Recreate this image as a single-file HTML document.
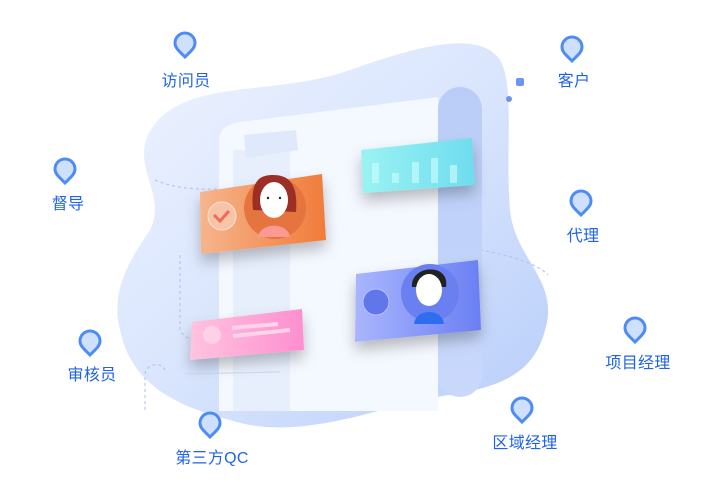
<!DOCTYPE html>
<html><head><meta charset="utf-8"><style>
html,body{margin:0;padding:0;background:#fff;}
body{width:724px;height:486px;position:relative;overflow:hidden;font-family:"Liberation Sans","Noto Sans CJK SC",sans-serif;}
.lbl{position:absolute;font-size:16px;color:#1f63e6;transform:translateX(-50%);white-space:nowrap;letter-spacing:0.3px}
</style></head><body>
<svg width="724" height="486" style="position:absolute;left:0;top:0">
<defs>
<linearGradient id="blob" x1="0" y1="0" x2="1" y2="1">
<stop offset="0" stop-color="#eef3ff"/><stop offset="0.5" stop-color="#d9e5fd"/><stop offset="1" stop-color="#b7cdfa"/></linearGradient>
<linearGradient id="org" x1="0" y1="0" x2="1" y2="0"><stop offset="0" stop-color="#f6b58c"/><stop offset="1" stop-color="#f07b3a"/></linearGradient>
<linearGradient id="cy" x1="0" y1="0" x2="1" y2="0"><stop offset="0" stop-color="#9af3f2"/><stop offset="1" stop-color="#6fdcef"/></linearGradient>
<linearGradient id="pu" x1="0" y1="0" x2="1" y2="0"><stop offset="0" stop-color="#a9b6fd"/><stop offset="1" stop-color="#6a7ff3"/></linearGradient>
<linearGradient id="pk" x1="0" y1="0" x2="1" y2="0"><stop offset="0" stop-color="#ffc3df"/><stop offset="1" stop-color="#fe8fd0"/></linearGradient>
<linearGradient id="pil" x1="0" y1="0" x2="0" y2="1"><stop offset="0" stop-color="#b9cdf8"/><stop offset="1" stop-color="#c9d8fb"/></linearGradient>
<filter id="sh" x="-30%" y="-30%" width="160%" height="180%"><feDropShadow dx="0" dy="8" stdDeviation="7" flood-opacity="0.25"/></filter>
</defs>
<path d="M160 118 C200 80 280 95 350 70 C420 45 480 30 500 60 C515 85 505 150 510 210 C515 260 560 280 545 330 C530 390 470 390 420 400 C360 415 290 440 230 420 C170 405 130 380 120 330 C110 290 130 260 150 230 C170 190 120 160 160 118 Z" fill="url(#blob)"/>
<path d="M155 180 C200 200 280 185 360 160" stroke="#a9c0f2" stroke-width="1" stroke-dasharray="3 3" fill="none"/>
<path d="M480 250 C510 255 540 265 548 275" stroke="#a9c0f2" stroke-width="1" stroke-dasharray="3 3" fill="none"/>
<path d="M180 255 L180 330 C185 340 195 340 200 340" stroke="#a9c0f2" stroke-width="1" stroke-dasharray="3 3" fill="none"/>
<path d="M145 410 L145 375 C145 365 160 360 165 370" stroke="#a9c0f2" stroke-width="1" stroke-dasharray="3 3" fill="none"/>
<rect x="438" y="87" width="44" height="310" rx="22" fill="url(#pil)"/>
<path d="M219 140 Q219 125 240 122 L438 97 L438 411 L219 411 Z" fill="#f4f8ff"/>
<rect x="233" y="150" width="57" height="261" fill="#e4ecfc" opacity="0.8"/>
<path d="M244 135 L296 130 L298 150 L246 158 Z" fill="#e0e8fb"/>
<rect x="516" y="78" width="8" height="8" rx="2" fill="#6b95f2"/>
<circle cx="509" cy="99" r="3" fill="#6b95f2"/>
<line x1="185" y1="374" x2="280" y2="372" stroke="#cbd8f5" stroke-width="1"/>
<g filter="url(#sh)"><path d="M200 192 L322 174 L326 240 L201 254 Z" fill="url(#org)"/></g>
<circle cx="222" cy="216" r="14" fill="#f8c4a8" stroke="#fde2d2" stroke-width="1"/>
<path d="M214 215 l6 6 l9 -10" stroke="#f06a5a" stroke-width="3" fill="none"/>
<circle cx="275" cy="208" r="31" fill="#e5743e"/>
<path d="M253 210 C250 180 260 175 273 175 C290 175 298 185 296 212 Z" fill="#9c2e25"/>
<ellipse cx="274" cy="200" rx="14" ry="18" fill="#fff"/>
<path d="M258 237 C260 222 288 222 290 237 Z" fill="#fb9a92"/>
<circle cx="268" cy="198" r="1.2" fill="#222"/><circle cx="280" cy="198" r="1.2" fill="#222"/>
<g filter="url(#sh)"><path d="M361 150 L472 138 L475 185 L363 193 Z" fill="url(#cy)"/></g>
<g fill="#c6fbfb" opacity="0.7"><rect x="372" y="163" width="7" height="20"/><rect x="392" y="173" width="7" height="10"/><rect x="412" y="162" width="7" height="21"/><rect x="431" y="158" width="7" height="25"/><rect x="450" y="165" width="7" height="18"/></g>
<g filter="url(#sh)"><path d="M356 274 L478 260 L481 330 L355 342 Z" fill="url(#pu)"/></g>
<circle cx="376" cy="302" r="13" fill="#6176ea" stroke="#b7c3ff" stroke-width="1"/>
<circle cx="430" cy="293" r="29" fill="#6a80f0"/>
<path d="M412 287 C410 265 450 262 446 287 Z" fill="#222"/>
<ellipse cx="429" cy="290" rx="13" ry="16" fill="#fff"/>
<path d="M414 324 C416 308 442 308 444 324 Z" fill="#2e6cf0"/>
<g filter="url(#sh)"><path d="M192 322 L302 309 L304 350 L190 360 Z" fill="url(#pk)"/></g>
<circle cx="212" cy="335" r="9" fill="#ffd1e6"/>
<path d="M232 328 L278 324 M233 336 L290 330" stroke="#ffd3ea" stroke-width="4"/>
<g fill="#cfe0ff" stroke="#4e8cf5" stroke-width="3">
<path transform="translate(185,45)" d="M0 12 C-6 6 -10 3 -10 -2 A10 10 0 0 1 10 -2 C10 3 6 6 0 12 Z"/>
<path transform="translate(572,49)" d="M0 12 C-6 6 -10 3 -10 -2 A10 10 0 0 1 10 -2 C10 3 6 6 0 12 Z"/>
<path transform="translate(65,171)" d="M0 12 C-6 6 -10 3 -10 -2 A10 10 0 0 1 10 -2 C10 3 6 6 0 12 Z"/>
<path transform="translate(581,203)" d="M0 12 C-6 6 -10 3 -10 -2 A10 10 0 0 1 10 -2 C10 3 6 6 0 12 Z"/>
<path transform="translate(90,343)" d="M0 12 C-6 6 -10 3 -10 -2 A10 10 0 0 1 10 -2 C10 3 6 6 0 12 Z"/>
<path transform="translate(635,330)" d="M0 12 C-6 6 -10 3 -10 -2 A10 10 0 0 1 10 -2 C10 3 6 6 0 12 Z"/>
<path transform="translate(210,425)" d="M0 12 C-6 6 -10 3 -10 -2 A10 10 0 0 1 10 -2 C10 3 6 6 0 12 Z"/>
<path transform="translate(522,410)" d="M0 12 C-6 6 -10 3 -10 -2 A10 10 0 0 1 10 -2 C10 3 6 6 0 12 Z"/>
</g>
</svg>
<div class="lbl" style="left:186px;top:67px">访问员</div>
<div class="lbl" style="left:574px;top:67px">客户</div>
<div class="lbl" style="left:68px;top:190px">督导</div>
<div class="lbl" style="left:583px;top:222px">代理</div>
<div class="lbl" style="left:92px;top:361px">审核员</div>
<div class="lbl" style="left:638px;top:349px">项目经理</div>
<div class="lbl" style="left:212px;top:444px">第三方QC</div>
<div class="lbl" style="left:525px;top:429px">区域经理</div>
</body></html>
